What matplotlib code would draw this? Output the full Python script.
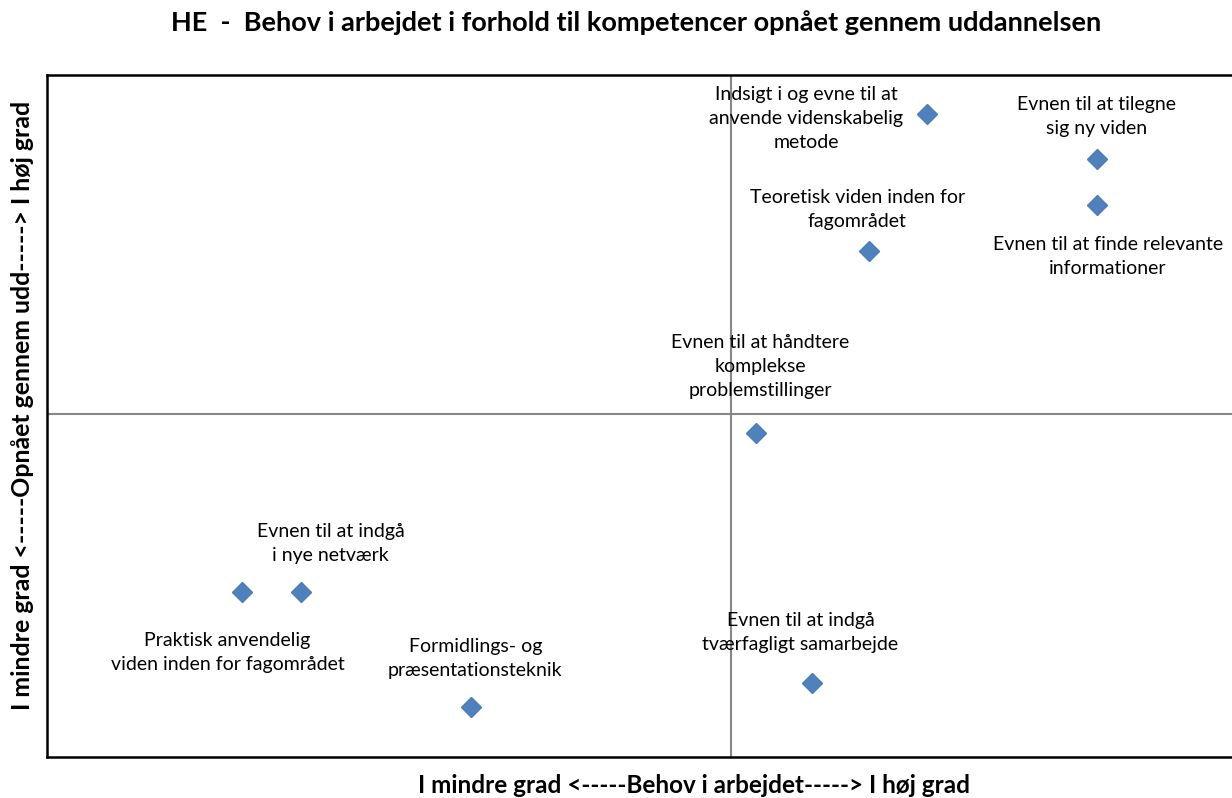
import matplotlib
matplotlib.use("Agg")
import matplotlib.pyplot as plt

plt.rcParams['font.family'] = ['Lato', 'DejaVu Sans']

labels = [
    "Indsigt i og evne til at\nanvende videnskabelig\nmetode",
    "Evnen til at tilegne\nsig ny viden",
    "Evnen til at finde relevante\ninformationer",
    "Teoretisk viden inden for\nfagområdet",
    "Evnen til at håndtere\nkomplekse\nproblemstillinger",
    "Evnen til at indgå\ni nye netværk",
    "Praktisk anvendelig\nviden inden for fagområdet",
    "Formidlings- og\npræsentationsteknik",
    "Evnen til at indgå\ntværfagligt samarbejde",
]
behov = [74.3, 88.6, 88.6, 69.4, 59.8, 21.4, 16.5, 35.8, 64.6]
opnaaet = [94.3, 87.7, 80.9, 74.2, 47.5, 24.2, 24.2, 7.3, 10.9]
x_mid = 57.7
y_mid = 50.3

label_offsets = [(-121, -5), (0, 42), (11, -51), (-12, 41), (5, 67),
                 (30, 48), (-15, -61), (4, 49), (-12, 50)]

fig = plt.figure(figsize=(12.32, 7.98), dpi=100)
ax = fig.add_axes([0.0381, 0.0514, 0.9619, 0.8546])

ax.set_xlim(0, 100)
ax.set_ylim(0, 100)
ax.axvline(x_mid, color='#868686', lw=1.5, zorder=1)
ax.axhline(y_mid, color='#868686', lw=1.5, zorder=1)

ax.plot(behov, opnaaet, linestyle='none', marker='D', markersize=10,
        markerfacecolor='#4F81BD', markeredgecolor='#4A7EBB', zorder=3)

for x, y, lab, off in zip(behov, opnaaet, labels, label_offsets):
    ax.annotate(lab, (x, y), xytext=off, textcoords='offset pixels',
                ha='center', va='center', fontsize=14, color='#000000',
                linespacing=1.5, zorder=4)

ax.set_xticks([])
ax.set_yticks([])
for s in ['left', 'bottom', 'top']:
    ax.spines[s].set_linewidth(1.8)
    ax.spines[s].set_color('#000000')
ax.spines['right'].set_visible(False)

fig.text(0.516, 0.972, "HE  -  Behov i arbejdet i forhold til kompetencer opnået gennem uddannelsen",
         ha='center', va='center', fontsize=19.5, fontweight='bold')
fig.text(0.563, 0.016, "I mindre grad <-----Behov i arbejdet-----> I høj grad",
         ha='center', va='center', fontsize=17.5, fontweight='bold')
fig.text(0.018, 0.492, "I mindre grad <-----Opnået gennem udd-----> I høj grad",
         ha='center', va='center', fontsize=17.9, fontweight='bold', rotation=90)

fig.savefig("out.png", dpi=100)
